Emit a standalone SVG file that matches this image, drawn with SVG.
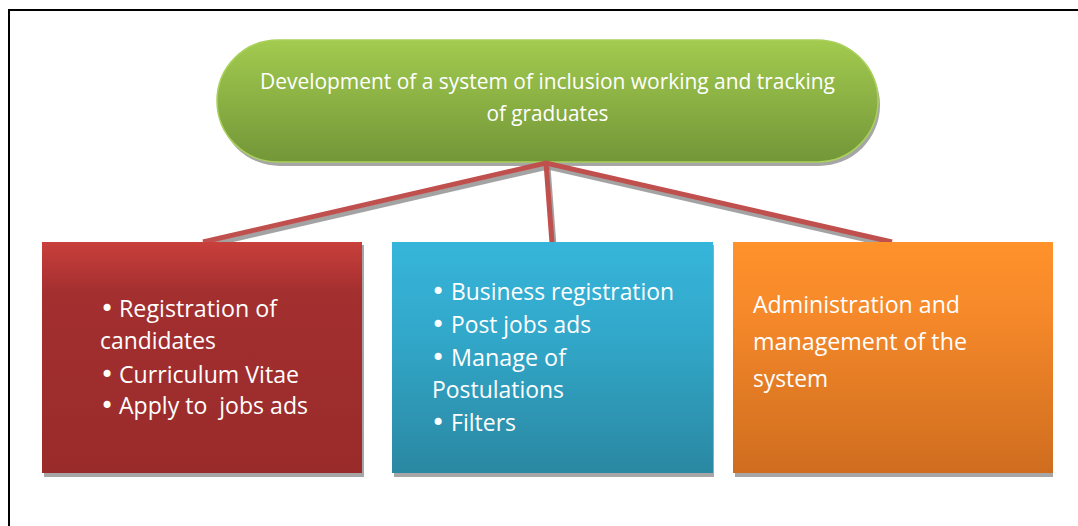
<svg xmlns="http://www.w3.org/2000/svg" width="1078" height="526" viewBox="0 0 1078 526">
<defs>
<linearGradient id="gGreen" x1="0" y1="0" x2="0" y2="1">
<stop offset="0" stop-color="#A2CB4F"/>
<stop offset="1" stop-color="#739638"/>
</linearGradient>
<linearGradient id="gRed" x1="0" y1="0" x2="0" y2="1">
<stop offset="0" stop-color="#C93F3B"/>
<stop offset="0.22" stop-color="#A32F2F"/>
<stop offset="1" stop-color="#9A2B2B"/>
</linearGradient>
<linearGradient id="gBlue" x1="0" y1="0" x2="0" y2="1">
<stop offset="0" stop-color="#36B5DA"/>
<stop offset="0.4" stop-color="#32A8CA"/>
<stop offset="1" stop-color="#2A88A2"/>
</linearGradient>
<linearGradient id="gOrange" x1="0" y1="0" x2="0" y2="1">
<stop offset="0" stop-color="#FF922A"/>
<stop offset="0.3" stop-color="#F6892A"/>
<stop offset="1" stop-color="#CF6D1F"/>
</linearGradient>
</defs>
<style>
.t{font-family:"Open Sans","Liberation Sans",sans-serif;fill:#ffffff}
.title{font-size:21px}
.body{font-size:24px}
.bs{font-family:"DejaVu Sans",sans-serif;font-size:24px}
.shadow{fill:#A6A6A6}
.conn{stroke:#C0504D;stroke-width:5;fill:none;stroke-linecap:butt;stroke-linejoin:miter}
.connsh{stroke:#8C8C8C;stroke-width:5;fill:none;opacity:0.8}
</style>
<rect width="1078" height="526" fill="#ffffff"/>
<g id="frame">
<line x1="8" y1="10" x2="1078" y2="10" stroke="#000" stroke-width="2"/>
<line x1="9" y1="9" x2="9" y2="526" stroke="#000" stroke-width="2"/>
</g>
<g id="top">
<rect class="shadow" x="219" y="44" width="661" height="122" rx="61"/>
<rect x="217" y="40" width="661" height="122" rx="61" fill="url(#gGreen)" stroke="#A9D05A" stroke-width="1.5"/>
<text class="t title" x="547.5" y="89" text-anchor="middle" textLength="575" lengthAdjust="spacingAndGlyphs">Development of a system of inclusion working and tracking</text>
<text class="t title" x="547.5" y="121" text-anchor="middle" textLength="122" lengthAdjust="spacingAndGlyphs">of graduates</text>
</g>
<g id="connectors">
<polyline class="connsh" points="205,246 548,167 894,246"/>
<line class="connsh" x1="548" y1="167" x2="554" y2="246"/>
<polyline class="conn" points="203,242 546,163 892,242"/>
<line class="conn" x1="546" y1="163" x2="552" y2="243"/>
</g>
<g id="candidates">
<rect class="shadow" x="44" y="245" width="320" height="232"/>
<rect x="42" y="242" width="320" height="231" fill="url(#gRed)"/>
<text class="t body" y="317"><tspan class="bs" x="100">•</tspan><tspan x="119" textLength="158" lengthAdjust="spacingAndGlyphs">Registration of</tspan></text>
<text class="t body" x="100" y="349" textLength="116" lengthAdjust="spacingAndGlyphs">candidates</text>
<text class="t body" y="383"><tspan class="bs" x="100">•</tspan><tspan x="119" textLength="180" lengthAdjust="spacingAndGlyphs">Curriculum Vitae</tspan></text>
<text class="t body" y="414" xml:space="preserve"><tspan class="bs" x="100">•</tspan><tspan x="119" textLength="189" lengthAdjust="spacingAndGlyphs">Apply to  jobs ads</tspan></text>
</g>
<g id="business">
<rect class="shadow" x="394" y="245" width="320" height="232"/>
<rect x="392" y="242" width="321" height="231" fill="url(#gBlue)"/>
<text class="t body" y="300"><tspan class="bs" x="431">•</tspan><tspan x="451" textLength="223" lengthAdjust="spacingAndGlyphs">Business registration</tspan></text>
<text class="t body" y="333"><tspan class="bs" x="431">•</tspan><tspan x="451" textLength="140" lengthAdjust="spacingAndGlyphs">Post jobs ads</tspan></text>
<text class="t body" y="366"><tspan class="bs" x="431">•</tspan><tspan x="451" textLength="115" lengthAdjust="spacingAndGlyphs">Manage of</tspan></text>
<text class="t body" x="432" y="398" textLength="132" lengthAdjust="spacingAndGlyphs">Postulations</text>
<text class="t body" y="431"><tspan class="bs" x="431">•</tspan><tspan x="451" textLength="65" lengthAdjust="spacingAndGlyphs">Filters</tspan></text>
</g>
<g id="admin">
<rect class="shadow" x="735" y="245" width="318" height="232"/>
<rect x="733" y="242" width="320" height="231" fill="url(#gOrange)"/>
<text class="t body" x="753" y="313" textLength="207" lengthAdjust="spacingAndGlyphs">Administration and</text>
<text class="t body" x="753" y="350" textLength="214" lengthAdjust="spacingAndGlyphs">management of the</text>
<text class="t body" x="753" y="387" textLength="75" lengthAdjust="spacingAndGlyphs">system</text>
</g>
</svg>
